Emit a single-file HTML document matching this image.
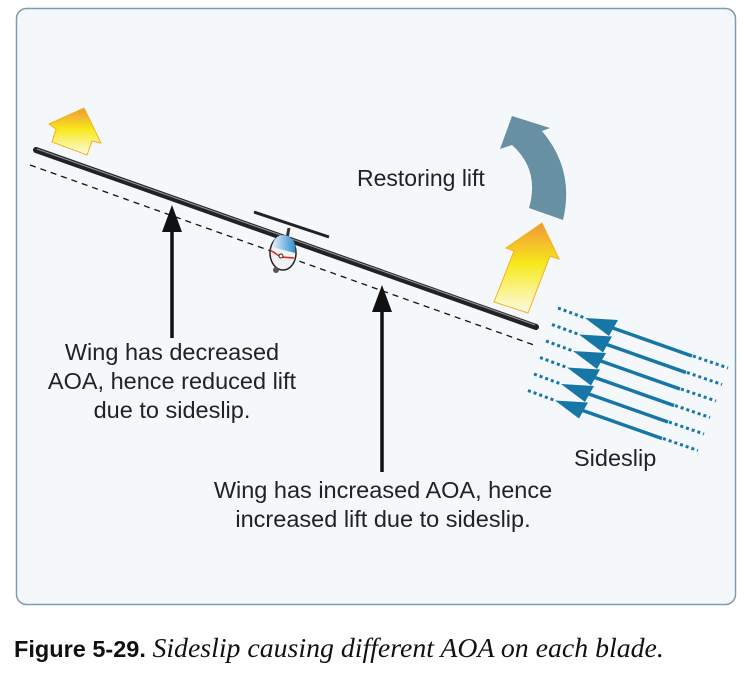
<!DOCTYPE html>
<html><head><meta charset="utf-8"><style>
body{margin:0;background:#fff;width:746px;height:674px;overflow:hidden;}
svg{display:block}
</style></head><body>
<svg width="746" height="674" viewBox="0 0 746 674" xmlns="http://www.w3.org/2000/svg">
<defs>
<linearGradient id="yg" x1="0" y1="1" x2="0" y2="0">
<stop offset="0" stop-color="#fdfbe8"/><stop offset="0.55" stop-color="#f7e81a"/><stop offset="1" stop-color="#f0963a"/>
</linearGradient>
<linearGradient id="canopy" x1="0" y1="0" x2="1" y2="0">
<stop offset="0" stop-color="#e8f2fa"/><stop offset="1" stop-color="#2f8fd0"/>
</linearGradient>
</defs>
<rect x="16.5" y="8.5" width="719" height="596" rx="10" fill="#f4f8fb" stroke="#7d9cb0" stroke-width="1.5"/>

<line x1="30" y1="165" x2="534" y2="345" stroke="#111" stroke-width="1.3" stroke-dasharray="6,5"/>
<g>
<line x1="36" y1="150" x2="536" y2="327" stroke="#222" stroke-width="6" stroke-linecap="round"/>
<line x1="37" y1="149" x2="535" y2="325" stroke="#999" stroke-width="1"/>
</g>
<g>
<line x1="254" y1="212" x2="329" y2="237" stroke="#222" stroke-width="3"/>
<line x1="289" y1="228" x2="287" y2="238" stroke="#333" stroke-width="3"/>
<ellipse cx="283" cy="253" rx="13" ry="17" fill="#f2f2f2" stroke="#222" stroke-width="1.5"/>
<path d="M272 247 Q275 232 288 236 Q297 240 295 253 Z" fill="url(#canopy)"/>
<path d="M270 250 L281 257 L294 258" stroke="#d22" stroke-width="1.5" fill="none"/>
<circle cx="281" cy="256" r="2" fill="#fff" stroke="#222"/>
<circle cx="276" cy="270" r="3" fill="#555"/>
</g>

<path d="M84 108 L101 143 L92 141 L87 155 L52 142 L56 129 L49 124 Z" fill="url(#yg)" stroke="#f2b21c" stroke-width="1"/>
<path d="M494 302 L514 251 L506 248 L542 223 L559 259 L550 256 L528 313 Z" fill="url(#yg)" stroke="#f2b21c" stroke-width="1"/>

<path d="M512 116 L550 128 L542 131 Q575 170 563 220 L529 208 Q540 170 512 145 L500 149 Z" fill="#6790a3"/>
<text x="357" y="186" font-family="Liberation Sans, sans-serif" font-size="23" fill="#222">Restoring lift</text>

<g>
<line x1="172" y1="338" x2="172" y2="225" stroke="#111" stroke-width="3.5"/>
<path d="M162 232 L172 205 L182 232 Z" fill="#111"/>
</g>
<g>
<line x1="382" y1="472" x2="382" y2="305" stroke="#111" stroke-width="3.5"/>
<path d="M372 312 L382 285 L392 312 Z" fill="#111"/>
</g>

<g font-family="Liberation Sans, sans-serif" font-size="23.5" fill="#222" text-anchor="middle">
<text x="172" y="360">Wing has decreased</text>
<text x="172" y="389">AOA, hence reduced lift</text>
<text x="172" y="418">due to sideslip.</text>
<text x="383" y="498">Wing has increased AOA, hence</text>
<text x="383" y="527">increased lift due to sideslip.</text>
<text x="574" y="466" text-anchor="start">Sideslip</text>
</g>

<g id="slip"></g>

<text x="14" y="657" font-family="Liberation Sans, sans-serif" font-size="23.5" fill="#111"><tspan font-weight="bold">Figure 5-29.</tspan> <tspan font-family="Liberation Serif, serif" font-style="italic" font-size="27.8">Sideslip causing different AOA on each blade.</tspan></text>
</svg>
<script>
const arrowIndex=[0,1,2,3,4,5];
const g=document.getElementById('slip');
const ns='http://www.w3.org/2000/svg';
arrowIndex.forEach(i=>{
  const dx=-6*i, dy=16.5*i;
  const grp=document.createElementNS(ns,'g');
  
  
  grp.innerHTML=
   `<line x1="${558+dx}" y1="${308+dy}" x2="${585+dx}" y2="${318+dy}" stroke="#1676a6" stroke-width="3" stroke-dasharray="3,3"/>`+
   `<line x1="${610+dx}" y1="${327+dy}" x2="${692+dx}" y2="${356+dy}" stroke="#1676a6" stroke-width="3.5"/>`+
   `<line x1="${693+dx}" y1="${356+dy}" x2="${728+dx}" y2="${368+dy}" stroke="#1676a6" stroke-width="3" stroke-dasharray="3,3"/>`+
   `<path d="M${585+dx} ${318+dy} L${618+dx} ${320+dy} L${609+dx} ${336+dy} Z" fill="#1676a6"/>`;
  g.appendChild(grp);
});
</script>
</body></html>
